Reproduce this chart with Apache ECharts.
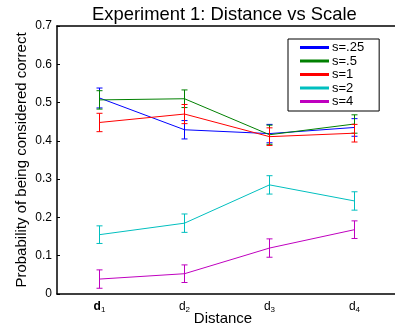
<!DOCTYPE html>
<html><head><meta charset="utf-8">
<script src="https://cdn.jsdelivr.net/npm/echarts@6/dist/echarts.min.js"></script>
<style>html,body{margin:0;padding:0;background:#fff}#c{width:395px;height:328px}</style>
</head><body><div id="c"></div>
<script>
const categories = ['1', '2', '3', '4'];
const seriesNames = ['s=.25', 's=.5', 's=1', 's=2', 's=4'];
const colors = ['#0000ff', '#008000', '#ff0000', '#00bfbf', '#bf00bf'];
const s025 = [0.512, 0.429, 0.419, 0.435];
const err025 = [0.026, 0.024, 0.024, 0.023];
const s05 = [0.507, 0.510, 0.416, 0.444];
const err05 = [0.024, 0.023, 0.025, 0.024];
const s1 = [0.448, 0.470, 0.411, 0.420];
const err1 = [0.024, 0.025, 0.023, 0.023];
const s2 = [0.155, 0.185, 0.285, 0.243];
const err2 = [0.023, 0.024, 0.024, 0.024];
const s4 = [0.039, 0.053, 0.120, 0.168];
const err4 = [0.024, 0.023, 0.024, 0.023];
const yTicks = [0, 0.1, 0.2, 0.3, 0.4, 0.5, 0.6, 0.7];

const vals = [s025, s05, s1, s2, s4];
const errs = [err025, err05, err1, err2, err4];
const FONT = 'Liberation Sans, Arial, sans-serif';

const chart = echarts.init(document.getElementById('c'), null, {renderer: 'canvas'});
const series = [];
vals.forEach((v, i) => {
  series.push({
    name: seriesNames[i], type: 'line', data: v, symbol: 'none',
    lineStyle: {color: colors[i], width: 1}, itemStyle: {color: colors[i]},
    z: 2 + i, silent: true, animation: false
  });
  series.push({
    type: 'custom', silent: true, animation: false, z: 2 + i,
    data: v.map((y, j) => [j, y - errs[i][j], y + errs[i][j]]),
    renderItem: function (params, api) {
      const lo = api.coord([api.value(0), api.value(1)]);
      const hi = api.coord([api.value(0), api.value(2)]);
      const hw = 3;
      const st = {stroke: colors[i], lineWidth: 1, fill: null};
      return {type: 'group', children: [
        {type: 'line', shape: {x1: lo[0], y1: lo[1], x2: hi[0], y2: hi[1]}, style: st},
        {type: 'line', shape: {x1: lo[0] - hw, y1: lo[1], x2: lo[0] + hw, y2: lo[1]}, style: st},
        {type: 'line', shape: {x1: hi[0] - hw, y1: hi[1], x2: hi[0] + hw, y2: hi[1]}, style: st}
      ]};
    }
  });
});

chart.setOption({
  animation: false,
  title: {text: 'Experiment 1: Distance vs Scale', left: 87, top: 1,
    textStyle: {fontFamily: FONT, fontSize: 18.4, fontWeight: 'normal', color: '#000'}},
  grid: {left: 57, top: 26, width: 340, height: 268, outerBoundsMode: 'none', containLabel: false},
  legend: {
    orient: 'vertical', left: 288, top: 39, data: seriesNames,
    icon: 'rect', itemWidth: 29, itemHeight: 3, itemGap: 0.5,
    borderColor: '#000', borderWidth: 1, padding: [2, 15, 3, 12],
    textStyle: {fontFamily: FONT, fontSize: 13, color: '#000', lineHeight: 13, padding: [0, 0, 0, -2]},
    selectedMode: false
  },
  xAxis: [{
    type: 'category', data: categories, boundaryGap: true, position: 'bottom',
    name: 'Distance', nameLocation: 'middle', nameGap: 17, nameMoveOverlap: false,
    nameTextStyle: {fontFamily: FONT, fontSize: 15, color: '#000', padding: [0, 8, 0, 0]},
    axisLine: {lineStyle: {color: '#000', width: 1.5}},
    axisTick: {inside: true, alignWithLabel: true, length: 3, lineStyle: {color: '#000'}},
    axisLabel: {
      margin: 6, color: '#000',
      formatter: function (v, idx) { return (idx === 0 ? '{bb|d}' : '{b|d}') + '{s|' + v + '}'; },
      rich: {
        b: {fontFamily: FONT, fontSize: 12, color: '#000'},
        bb: {fontFamily: FONT, fontSize: 12, color: '#000', fontWeight: 'bold'},
        s: {fontFamily: FONT, fontSize: 8, color: '#000', padding: [6, 0, 0, 0]}
      }
    }
  }, {
    type: 'category', data: categories, boundaryGap: true, position: 'top',
    axisLine: {lineStyle: {color: '#000', width: 1.5}},
    axisTick: {inside: true, alignWithLabel: true, length: 3, lineStyle: {color: '#000'}},
    axisLabel: {show: false}
  }],
  yAxis: {
    type: 'value', min: 0, max: 0.7, interval: 0.1,
    name: 'Probability of being considered correct', nameLocation: 'middle', nameGap: 28, nameMoveOverlap: false,
    nameTextStyle: {fontFamily: FONT, fontSize: 15, color: '#000'},
    axisLine: {show: true, lineStyle: {color: '#000', width: 1.5}},
    axisTick: {show: true, inside: true, length: 3, lineStyle: {color: '#000'}},
    splitLine: {show: false},
    axisLabel: {fontFamily: FONT, fontSize: 12, color: '#000', margin: 5,
      formatter: function (v) { return v === 0 ? '0' : v.toFixed(1); }}
  },
  series: series
});
</script></body></html>
